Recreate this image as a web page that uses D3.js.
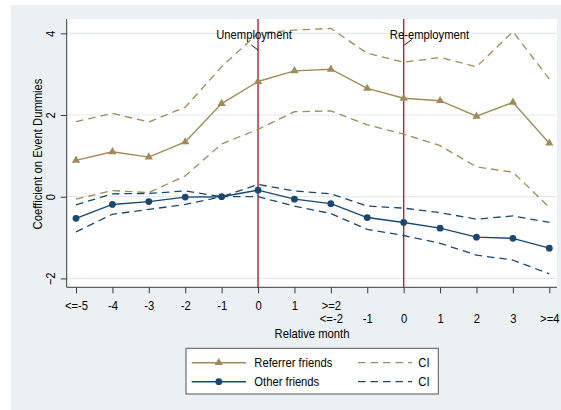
<!DOCTYPE html>
<html>
<head>
<meta charset="utf-8">
<script src="https://cdn.jsdelivr.net/npm/d3@7"></script>
<style>
  html, body { margin: 0; padding: 0; background: #ffffff; }
  svg { display: block; font-family: "Liberation Sans", Arial, Helvetica, sans-serif; }
</style>
</head>
<body>
<svg id="chart" width="561" height="410"></svg>
<script>
// Event-time positions (two stacked event windows) and their tick labels
const positions = [0, 1, 2, 3, 4, 5, 6, 7, 8, 9, 10, 11, 12, 13];
const tickRow1 = ["<=-5", "-4", "-3", "-2", "-1", "0", "1", ">=2", "", "", "", "", "", ""];
const tickRow2 = ["", "", "", "", "", "", "", "<=-2", "-1", "0", "1", "2", "3", ">=4"];
const yTicks = [-2, 0, 2, 4];

// Coefficients and confidence bounds
const referrer   = [0.89, 1.10, 0.97, 1.34, 2.28, 2.82, 3.08, 3.12, 2.65, 2.41, 2.35, 1.97, 2.31, 1.31];
const referrerHi = [1.84, 2.04, 1.83, 2.19, 3.18, 4.00, 4.08, 4.12, 3.51, 3.29, 3.41, 3.18, 4.04, 2.88];
const referrerLo = [-0.06, 0.15, 0.10, 0.51, 1.29, 1.65, 2.08, 2.10, 1.76, 1.53, 1.25, 0.73, 0.60, -0.26];
const other      = [-0.53, -0.19, -0.12, -0.01, 0.00, 0.16, -0.06, -0.17, -0.51, -0.63, -0.77, -0.99, -1.02, -1.26];
const otherHi    = [-0.20, 0.07, 0.08, 0.14, 0.00, 0.30, 0.14, 0.07, -0.23, -0.28, -0.39, -0.55, -0.47, -0.63];
const otherLo    = [-0.86, -0.43, -0.31, -0.19, 0.00, 0.00, -0.23, -0.41, -0.80, -0.95, -1.14, -1.43, -1.55, -1.89];

// Event markers: position index and label
const events = [
  { at: 5, label: "Unemployment" },
  { at: 9, label: "Re-employment" }
];
const seriesNames = ["Referrer friends", "Other friends"];
const ciName = "CI";
const xTitle = "Relative month";
const yTitle = "Coefficient on Event Dummies";

const TAN = "#a08b58";
const NAVY = "#1a476f";
const RED = "#b81f30";
const BG = "#eaf0f3";
const GRID = "#e3eaee";
const FONT = 12.5;
const SQUEEZE = "scale(0.9,1)";

const svg = d3.select("#chart");

// outer graph region
svg.append("rect").attr("x", 11).attr("y", 5).attr("width", 550).attr("height", 405).attr("fill", BG);

const plot = { left: 66.7, right: 557, top: 19, bottom: 287.3 };
svg.append("rect")
  .attr("x", plot.left).attr("y", plot.top)
  .attr("width", plot.right - plot.left).attr("height", plot.bottom - plot.top)
  .attr("fill", "#ffffff");

const x = d3.scaleLinear().domain([0, 13]).range([76, 549.3]);
const y = d3.scaleLinear().domain([-2, 4]).range([278.4, 33.3]);

// horizontal grid
svg.append("g").selectAll("line").data(yTicks).join("line")
  .attr("x1", plot.left).attr("x2", plot.right)
  .attr("y1", d => y(d)).attr("y2", d => y(d))
  .attr("stroke", GRID).attr("stroke-width", 1.2);

// event lines
svg.append("g").selectAll("line").data(events).join("line")
  .attr("x1", d => x(d.at)).attr("x2", d => x(d.at))
  .attr("y1", plot.top).attr("y2", plot.bottom)
  .attr("stroke", RED).attr("stroke-width", 1.4);

// y axis
const yAxis = svg.append("g")
  .attr("transform", `translate(${plot.left},0)`)
  .call(d3.axisLeft(y).tickValues(yTicks).tickSize(6).tickFormat(d3.format("d")));
yAxis.select(".domain").attr("d", `M0,${plot.top}V${plot.bottom}`).attr("stroke", "#3a3a3a");
yAxis.selectAll(".tick line").attr("stroke", "#3a3a3a");
yAxis.selectAll(".tick text")
  .attr("x", null).attr("dy", null)
  .attr("transform", `translate(-11.8,0) rotate(-90) ${SQUEEZE}`)
  .attr("text-anchor", "middle")
  .attr("font-size", FONT).attr("font-family", null).attr("fill", "#000");

// x axis
const xAxis = svg.append("g")
  .attr("transform", `translate(0,${plot.bottom})`)
  .call(d3.axisBottom(x).tickValues(positions).tickSize(6).tickFormat(i => tickRow1[i]));
xAxis.select(".domain").attr("d", `M${plot.left},0H${plot.right}`).attr("stroke", "#3a3a3a");
xAxis.selectAll(".tick line").attr("stroke", "#3a3a3a");
xAxis.selectAll(".tick text")
  .attr("y", 22.7).attr("dy", null)
  .attr("transform", SQUEEZE)
  .attr("font-size", FONT).attr("font-family", null).attr("fill", "#000");
xAxis.selectAll(".tick").append("text")
  .attr("y", 36).attr("text-anchor", "middle")
  .attr("transform", SQUEEZE)
  .attr("font-size", FONT).attr("fill", "#000")
  .text(i => tickRow2[i]);

// axis titles
svg.append("text")
  .attr("transform", `translate(312,338) ${SQUEEZE}`)
  .attr("text-anchor", "middle").attr("font-size", FONT).text(xTitle);
svg.append("text")
  .attr("transform", `translate(42.3,154) rotate(-90) ${SQUEEZE}`)
  .attr("text-anchor", "middle").attr("font-size", FONT).text(yTitle);

// series
const line = d3.line().x((d, i) => x(positions[i])).y(d => y(d));
const dash = "7.5,5";
function ci(values, color) {
  svg.append("path").datum(values).attr("d", line)
    .attr("fill", "none").attr("stroke", color).attr("stroke-width", 1.3)
    .attr("stroke-dasharray", dash);
}
ci(referrerHi, TAN); ci(referrerLo, TAN);
ci(otherHi, NAVY); ci(otherLo, NAVY);

svg.append("path").datum(referrer).attr("d", line)
  .attr("fill", "none").attr("stroke", TAN).attr("stroke-width", 1.4);
svg.append("path").datum(other).attr("d", line)
  .attr("fill", "none").attr("stroke", NAVY).attr("stroke-width", 1.4);

const tri = d3.symbol().type(d3.symbolTriangle).size(30);
const dot = d3.symbol().type(d3.symbolCircle).size(36);
svg.append("g").selectAll("path").data(referrer).join("path")
  .attr("d", tri)
  .attr("transform", (d, i) => `translate(${x(positions[i])},${y(d)})`)
  .attr("fill", TAN);
svg.append("g").selectAll("path").data(other).join("path")
  .attr("d", dot)
  .attr("transform", (d, i) => `translate(${x(positions[i])},${y(d)})`)
  .attr("fill", NAVY);

// event labels with short leader lines
const labelPos = [
  { cx: 254, lead: [[-6.7, 45], [0, 50]] },
  { cx: 429.5, lead: [[0.6, 45], [8.3, 39.5]] }
];
events.forEach((e, k) => {
  const ex = x(e.at);
  svg.append("text")
    .attr("transform", `translate(${labelPos[k].cx},39) ${SQUEEZE}`)
    .attr("text-anchor", "middle").attr("font-size", FONT).text(e.label);
  const l = labelPos[k].lead;
  svg.append("line")
    .attr("x1", ex + l[0][0]).attr("y1", l[0][1])
    .attr("x2", ex + l[1][0]).attr("y2", l[1][1])
    .attr("stroke", "#000").attr("stroke-width", 0.9);
});

// legend
const lg = svg.append("g");
lg.append("rect").attr("x", 186).attr("y", 348.3).attr("width", 252.3).attr("height", 45.7)
  .attr("fill", "#fff").attr("stroke", "#555").attr("stroke-width", 1);
const rows = [
  { name: seriesNames[0], color: TAN, sym: tri, y: 362.7 },
  { name: seriesNames[1], color: NAVY, sym: dot, y: 381.7 }
];
rows.forEach(r => {
  lg.append("line").attr("x1", 191.7).attr("x2", 246).attr("y1", r.y).attr("y2", r.y)
    .attr("stroke", r.color).attr("stroke-width", 1.4);
  lg.append("path").attr("d", r.sym).attr("transform", `translate(218.8,${r.y})`).attr("fill", r.color);
  lg.append("text").attr("transform", `translate(254.3,${r.y + 4.5}) ${SQUEEZE}`)
    .attr("font-size", FONT).text(r.name);
  lg.append("line").attr("x1", 358).attr("x2", 412).attr("y1", r.y).attr("y2", r.y)
    .attr("stroke", r.color).attr("stroke-width", 1.3).attr("stroke-dasharray", dash);
  lg.append("text").attr("transform", `translate(418.3,${r.y + 4.5}) ${SQUEEZE}`)
    .attr("font-size", FONT).text(ciName);
});
</script>
</body>
</html>
